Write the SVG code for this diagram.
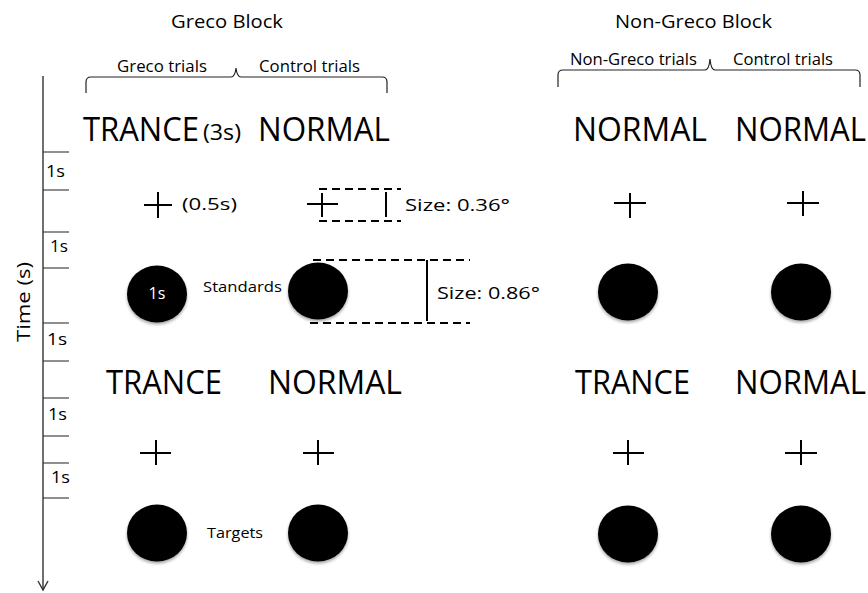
<svg xmlns="http://www.w3.org/2000/svg" width="868" height="593" viewBox="0 0 868 593">
<defs>
<style>
text{font-family:"Open Sans","Noto Sans","Liberation Sans",sans-serif;fill:#000}
.big{font-size:32px}
.hdr{font-size:18px}
.sub{font-size:15.5px}
.sm{font-size:17px}
.lab{font-size:15px}
.ax{stroke:#333;stroke-width:1.4;fill:none}
.tick{stroke:#333;stroke-width:1.1}
.cross{stroke:#000;stroke-width:2;fill:none}
.dash{stroke:#000;stroke-width:2;stroke-dasharray:8,5;fill:none}
.solid{stroke:#000;stroke-width:2;fill:none}
.brace{stroke:#222;stroke-width:1.2;fill:none}
.dot{fill:#000;filter:url(#sh)}
</style>
<filter id="sh" x="-30%" y="-30%" width="160%" height="170%">
<feDropShadow dx="0" dy="2" stdDeviation="1.5" flood-color="#000" flood-opacity="0.35"/>
</filter>
</defs>
<rect width="868" height="593" fill="#fff"/>

<g id="time-axis">
<line class="ax" x1="43" y1="76" x2="43" y2="590"/>
<path class="ax" d="M38,581 L43,590 L48,581"/>
<line class="tick" x1="43" y1="152" x2="69" y2="152"/>
<line class="tick" x1="43" y1="190" x2="69" y2="190"/>
<line class="tick" x1="43" y1="232" x2="69" y2="232"/>
<line class="tick" x1="43" y1="268" x2="69" y2="268"/>
<line class="tick" x1="43" y1="323" x2="69" y2="323"/>
<line class="tick" x1="43" y1="361" x2="69" y2="361"/>
<line class="tick" x1="43" y1="398" x2="69" y2="398"/>
<line class="tick" x1="43" y1="436" x2="69" y2="436"/>
<line class="tick" x1="43" y1="463" x2="69" y2="463"/>
<line class="tick" x1="43" y1="498" x2="69" y2="498"/>
<text class="sm" x="46" y="177" textLength="19" lengthAdjust="spacingAndGlyphs">1s</text>
<text class="sm" x="50" y="252" textLength="18" lengthAdjust="spacingAndGlyphs">1s</text>
<text class="sm" x="47" y="345" textLength="20" lengthAdjust="spacingAndGlyphs">1s</text>
<text class="sm" x="48" y="420" textLength="19" lengthAdjust="spacingAndGlyphs">1s</text>
<text class="sm" x="51" y="483" textLength="19" lengthAdjust="spacingAndGlyphs">1s</text>
<text transform="translate(30,302) rotate(-90)" font-size="18" text-anchor="middle" textLength="80" lengthAdjust="spacingAndGlyphs">Time (s)</text>
</g>

<g id="greco-block-header">
<text class="hdr" x="171" y="28" textLength="112" lengthAdjust="spacingAndGlyphs">Greco Block</text>
<text class="sub" x="117" y="72" textLength="90" lengthAdjust="spacingAndGlyphs">Greco trials</text>
<text class="sub" x="259" y="72" textLength="101" lengthAdjust="spacingAndGlyphs">Control trials</text>
<path class="brace" d="M86,93 L86,82 Q86,77 91,77 L231,77 Q235,77 236,68 Q237,77 241,77 L382,77 Q387,77 387,82 L387,93"/>
</g>

<g id="nongreco-block-header">
<text class="hdr" x="615" y="28" textLength="157" lengthAdjust="spacingAndGlyphs">Non-Greco Block</text>
<text class="sub" x="570" y="65" textLength="127" lengthAdjust="spacingAndGlyphs">Non-Greco trials</text>
<text class="sub" x="733" y="65" textLength="100" lengthAdjust="spacingAndGlyphs">Control trials</text>
<path class="brace" d="M558,87 L558,75 Q558,70 563,70 L705,70 Q709,70 710,59 Q711,70 715,70 L855,70 Q860,70 860,75 L860,87"/>
</g>

<g id="row-cue1">
<text class="big" x="83" y="141" textLength="116" lengthAdjust="spacingAndGlyphs">TRANCE</text>
<text x="203" y="140" font-size="21" textLength="38" lengthAdjust="spacingAndGlyphs">(3s)</text>
<text class="big" x="258" y="141" textLength="132" lengthAdjust="spacingAndGlyphs">NORMAL</text>
<text class="big" x="573" y="141" textLength="134" lengthAdjust="spacingAndGlyphs">NORMAL</text>
<text class="big" x="735" y="141" textLength="131" lengthAdjust="spacingAndGlyphs">NORMAL</text>
</g>

<g id="row-fix1">
<path class="cross" d="M144,205 H172 M158,192 V218"/>
<text class="sm" x="182" y="210" textLength="55" lengthAdjust="spacingAndGlyphs">(0.5s)</text>
<path class="cross" d="M307,204 H338 M322,193 V217"/>
<line class="dash" x1="319" y1="189" x2="401" y2="189"/>
<line class="dash" x1="319" y1="221" x2="401" y2="221"/>
<line class="solid" x1="386" y1="192" x2="386" y2="217"/>
<text class="sm" x="405" y="211" textLength="105" lengthAdjust="spacingAndGlyphs">Size: 0.36°</text>
<path class="cross" d="M614,203 H646 M630,193 V218"/>
<path class="cross" d="M787,203 H819 M803,191 V216"/>
</g>

<g id="row-std">
<ellipse class="dot" cx="157" cy="294" rx="30" ry="28.5"/>
<text x="157" y="299" font-size="16" style="fill:#fff" text-anchor="middle">1s</text>
<text class="lab" x="203" y="292" textLength="79" lengthAdjust="spacingAndGlyphs">Standards</text>
<line class="dash" x1="313" y1="260" x2="470" y2="260"/>
<line class="dash" x1="310" y1="323" x2="470" y2="323"/>
<ellipse class="dot" cx="318" cy="291" rx="30" ry="28.5"/>
<line class="solid" x1="427" y1="260" x2="427" y2="321"/>
<text class="sm" x="437" y="299" textLength="103" lengthAdjust="spacingAndGlyphs">Size: 0.86°</text>
<ellipse class="dot" cx="628" cy="292" rx="30" ry="28.5"/>
<ellipse class="dot" cx="801" cy="292" rx="30" ry="28.5"/>
</g>

<g id="row-cue2">
<text class="big" x="106" y="394" textLength="116" lengthAdjust="spacingAndGlyphs">TRANCE</text>
<text class="big" x="268" y="394" textLength="134" lengthAdjust="spacingAndGlyphs">NORMAL</text>
<text class="big" x="575" y="394" textLength="115" lengthAdjust="spacingAndGlyphs">TRANCE</text>
<text class="big" x="735" y="394" textLength="131" lengthAdjust="spacingAndGlyphs">NORMAL</text>
</g>

<g id="row-fix2">
<path class="cross" d="M140,453 H171 M156,440 V465"/>
<path class="cross" d="M303,453 H334 M318,440 V465"/>
<path class="cross" d="M613,453 H644 M628,440 V465"/>
<path class="cross" d="M785,453 H817 M801,440 V465"/>
</g>

<g id="row-tgt">
<ellipse class="dot" cx="157" cy="533" rx="30" ry="28.5"/>
<text class="lab" x="207" y="538" textLength="56" lengthAdjust="spacingAndGlyphs">Targets</text>
<ellipse class="dot" cx="318" cy="533" rx="30" ry="28.5"/>
<ellipse class="dot" cx="628" cy="534" rx="30" ry="28.5"/>
<ellipse class="dot" cx="801" cy="534" rx="30" ry="28.5"/>
</g>
</svg>
